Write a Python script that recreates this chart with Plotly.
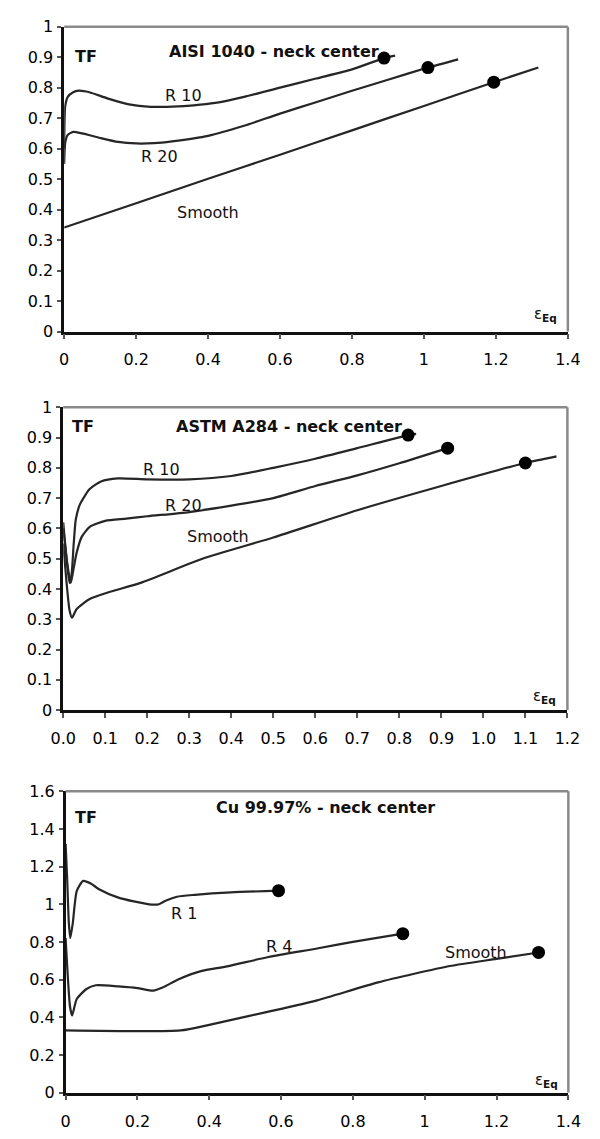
import plotly.graph_objects as go

W, H = 600, 1139

# ---------------- AISI 1040 - neck center ----------------
aisi_r10_x = [0, 0.003, 0.01, 0.025, 0.04, 0.07, 0.12, 0.18, 0.24, 0.3, 0.36, 0.42, 0.5, 0.6, 0.7, 0.8, 0.889, 0.92]
aisi_r10_y = [0.6, 0.74, 0.77, 0.785, 0.79, 0.785, 0.765, 0.745, 0.737, 0.738, 0.742, 0.75, 0.77, 0.80, 0.83, 0.86, 0.897, 0.905]
aisi_r20_x = [0, 0.003, 0.01, 0.025, 0.05, 0.1, 0.15, 0.2, 0.25, 0.3, 0.4, 0.5, 0.6, 0.7, 0.8, 0.9, 1.011, 1.095]
aisi_r20_y = [0.55, 0.62, 0.645, 0.655, 0.65, 0.635, 0.622, 0.617, 0.618, 0.624, 0.642, 0.675, 0.715, 0.752, 0.79, 0.826, 0.866, 0.893]
aisi_sm_x = [0, 0.2, 0.4, 0.6, 0.8, 1.0, 1.194, 1.318]
aisi_sm_y = [0.341, 0.421, 0.501, 0.58, 0.66, 0.74, 0.818, 0.866]
aisi_fail_x = [0.889, 1.011, 1.194]
aisi_fail_y = [0.897, 0.866, 0.818]

# ---------------- ASTM A284 - neck center ----------------
astm_r10_x = [0, 0.008, 0.015, 0.02, 0.025, 0.03, 0.04, 0.063, 0.09, 0.13, 0.2, 0.3, 0.4, 0.5, 0.6, 0.7, 0.821, 0.84]
astm_r10_y = [0.62, 0.5, 0.42, 0.45, 0.55, 0.63, 0.68, 0.73, 0.755, 0.765, 0.762, 0.762, 0.773, 0.80, 0.83, 0.865, 0.908, 0.912]
astm_r20_x = [0, 0.01, 0.018, 0.025, 0.032, 0.044, 0.063, 0.1, 0.15, 0.2, 0.3, 0.4, 0.5, 0.6, 0.7, 0.8, 0.915]
astm_r20_y = [0.6, 0.48, 0.42, 0.47, 0.52, 0.572, 0.605, 0.625, 0.632, 0.64, 0.654, 0.675, 0.70, 0.74, 0.775, 0.815, 0.865]
astm_sm_x = [0, 0.008, 0.015, 0.021, 0.032, 0.063, 0.108, 0.184, 0.336, 0.5, 0.7, 0.9, 1.1, 1.174]
astm_sm_y = [0.55, 0.42, 0.33, 0.305, 0.334, 0.367, 0.389, 0.42, 0.502, 0.57, 0.66, 0.74, 0.816, 0.838]
astm_fail_x = [0.821, 0.915, 1.10]
astm_fail_y = [0.908, 0.865, 0.816]

# ---------------- Cu 99.97% - neck center ----------------
cu_r1_x = [0, 0.004, 0.009, 0.013, 0.02, 0.031, 0.049, 0.07, 0.093, 0.147, 0.19, 0.24, 0.26, 0.28, 0.31, 0.36, 0.46, 0.593]
cu_r1_y = [1.32, 1.15, 0.9, 0.82, 0.9, 1.07, 1.124, 1.11, 1.08, 1.035, 1.015, 0.998, 1.0, 1.02, 1.04, 1.05, 1.063, 1.072]
cu_r4_x = [0, 0.005, 0.012, 0.018, 0.031, 0.058, 0.084, 0.147, 0.2, 0.244, 0.27, 0.315, 0.377, 0.45, 0.565, 0.7, 0.8, 0.939]
cu_r4_y = [0.82, 0.65, 0.46, 0.41, 0.497, 0.55, 0.57, 0.564, 0.555, 0.541, 0.558, 0.602, 0.645, 0.67, 0.72, 0.765, 0.80, 0.844]
cu_sm_x = [0, 0.32, 0.4, 0.565, 0.7, 0.87, 1.07, 1.2, 1.317]
cu_sm_y = [0.33, 0.33, 0.36, 0.43, 0.49, 0.585, 0.672, 0.71, 0.744]
cu_fail_x = [0.593, 0.939, 1.317]
cu_fail_y = [1.072, 0.844, 0.744]

panel_titles = ["AISI 1040 - neck center", "ASTM A284 - neck center", "Cu 99.97% - neck center"]

LINE = "#262626"
FONT = "DejaVu Sans"

fig = go.Figure()


def axis_ids(n):
    return ("x", "y") if n == 1 else (f"x{n}", f"y{n}")


def add_curve(x, y, n):
    xa, ya = axis_ids(n)
    fig.add_trace(go.Scatter(x=x, y=y, mode="lines",
                             line=dict(color=LINE, width=2.2, shape="spline", smoothing=0.6),
                             xaxis=xa, yaxis=ya, showlegend=False, hoverinfo="skip"))


def add_marks(x, y, n):
    xa, ya = axis_ids(n)
    fig.add_trace(go.Scatter(x=x, y=y, mode="markers", marker=dict(color="#000", size=13),
                             xaxis=xa, yaxis=ya, showlegend=False, hoverinfo="skip", cliponaxis=False))


for xs, ys in [(aisi_r10_x, aisi_r10_y), (aisi_r20_x, aisi_r20_y), (aisi_sm_x, aisi_sm_y)]:
    add_curve(xs, ys, 1)
add_marks(aisi_fail_x, aisi_fail_y, 1)
for xs, ys in [(astm_r10_x, astm_r10_y), (astm_r20_x, astm_r20_y), (astm_sm_x, astm_sm_y)]:
    add_curve(xs, ys, 2)
add_marks(astm_fail_x, astm_fail_y, 2)
for xs, ys in [(cu_r1_x, cu_r1_y), (cu_r4_x, cu_r4_y), (cu_sm_x, cu_sm_y)]:
    add_curve(xs, ys, 3)
add_marks(cu_fail_x, cu_fail_y, 3)


def px(v):
    return v / W


def py(v):
    return 1 - v / H


# pixel boxes of each plot area: left, right, top, bottom
boxes = [(53.5, 580, 18, 328), (52.5, 579.5, 405, 713), (55, 580.5, 795.5, 1102)]
xranges = [[0, 1.4], [0, 1.2], [0, 1.4]]
yranges = [[0, 1], [0, 1], [0, 1.6]]
xdticks = [0.2, 0.1, 0.2]
ydticks = [0.1, 0.1, 0.2]
xformats = [None, ".1f", None]

tickfont = dict(family=FONT, size=16, color="#000")
layout = dict(width=W, height=H, autosize=False, margin=dict(l=0, r=0, t=0, b=0),
              paper_bgcolor="white", plot_bgcolor="white", showlegend=False)
shapes = []
for i, (l, r, t, b) in enumerate(boxes):
    n = i + 1
    xa, ya = axis_ids(n)
    xk = "xaxis" if n == 1 else f"xaxis{n}"
    yk = "yaxis" if n == 1 else f"yaxis{n}"
    xaxis = dict(domain=[px(l), px(r)], range=xranges[i], anchor=ya, dtick=xdticks[i], tick0=0,
                 showgrid=False, zeroline=False, showline=True,
                 linecolor="#111", linewidth=2.5, ticks="outside", ticklen=5, tickwidth=1.5,
                 tickcolor="#555", tickfont=tickfont, ticklabelstandoff=7, fixedrange=True)
    if xformats[i]:
        xaxis["tickformat"] = xformats[i]
    layout[xk] = xaxis
    layout[yk] = dict(domain=[py(b), py(t)], range=yranges[i], anchor=xa, dtick=ydticks[i], tick0=0,
                      showgrid=False, zeroline=False, showline=True,
                      linecolor="#111", linewidth=2.5, ticks="outside", ticklen=4, tickwidth=1.5,
                      tickcolor="#555", tickfont=tickfont, ticklabelstandoff=1, fixedrange=True)
    shapes.append(dict(type="line", xref=f"{xa} domain", yref=f"{ya} domain", x0=0, x1=1, y0=1, y1=1,
                       line=dict(color="#8a8a8a", width=2.5)))
    shapes.append(dict(type="line", xref=f"{xa} domain", yref=f"{ya} domain", x0=1, x1=1, y0=0, y1=1,
                       line=dict(color="#8a8a8a", width=2.5)))
layout["shapes"] = shapes

# text labels placed in page pixels
bold = dict(family=FONT, size=16, color="#111")
reg = dict(family=FONT, size=16, color="#111")
labels = [
    ("<b>TF</b>", 76, 48, bold), ("<b>" + panel_titles[0] + "</b>", 273, 43, bold),
    ("R 10", 178, 88, reg), ("R 20", 153, 150, reg), ("Smooth", 204, 207, reg),
    ("<b>TF</b>", 73, 425, bold), ("<b>" + panel_titles[1] + "</b>", 289, 425, bold),
    ("R 10", 155, 468, reg), ("R 20", 178, 505, reg), ("Smooth", 214, 536, reg),
    ("<b>TF</b>", 76, 822, bold), ("<b>" + panel_titles[2] + "</b>", 327, 812, bold),
    ("R 1", 179, 920, reg), ("R 4", 278, 953, reg), ("Smooth", 484, 960, reg),
]
eps_pos = [(557, 311), (556, 699), (558, 1090)]
ann = []
for txt, x, y, f in labels:
    ann.append(dict(text=txt, x=px(x), y=py(y), xref="paper", yref="paper", showarrow=False,
                    xanchor="center", yanchor="middle", font=f))
for x, y in eps_pos:
    ann.append(dict(text="ε<sub><b>Eq</b></sub>", x=px(x), y=py(y), xref="paper", yref="paper",
                    showarrow=False, xanchor="center", yanchor="middle",
                    font=dict(family=FONT, size=15, color="#111")))
layout["annotations"] = ann

fig.update_layout(**layout)
fig.write_html("out.html")
